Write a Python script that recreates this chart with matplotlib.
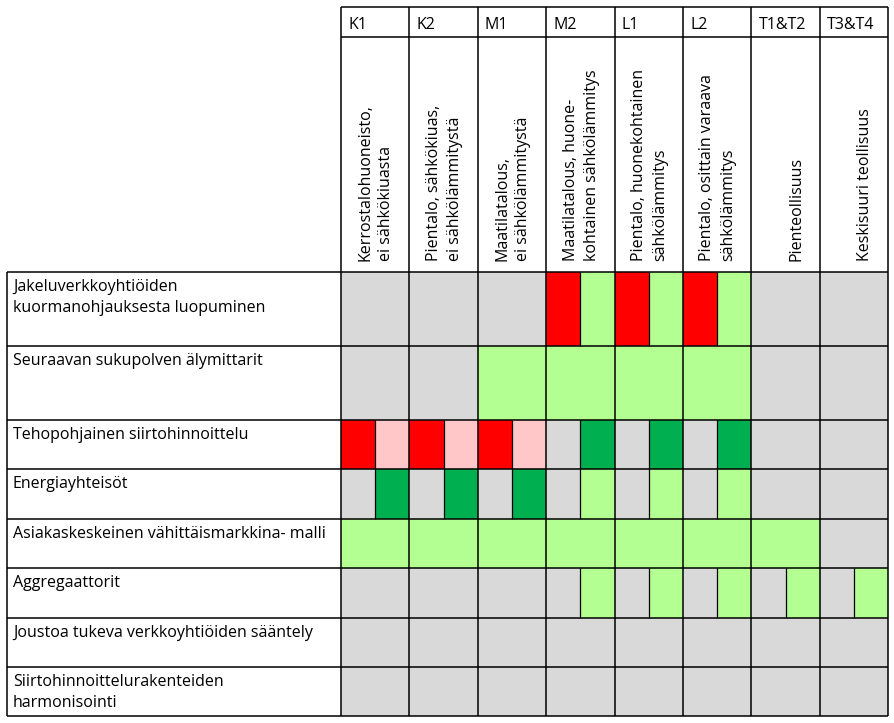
import matplotlib.pyplot as plt

# column codes and their descriptions (header)
codes = ["K1", "K2", "M1", "M2", "L1", "L2", "T1&T2", "T3&T4"]
descriptions = [
    "Kerrostalohuoneisto,\nei sähkökiuasta",
    "Pientalo, sähkökiuas,\nei sähkölämmitystä",
    "Maatilatalous,\nei sähkölämmitystä",
    "Maatilatalous, huone-\nkohtainen sähkölämmitys",
    "Pientalo, huonekohtainen\nsähkölämmitys",
    "Pientalo, osittain varaava\nsähkölämmitys",
    "Pienteollisuus",
    "Keskisuuri teollisuus",
]

# row labels (measures)
measures = [
    "Jakeluverkkoyhtiöiden\nkuormanohjauksesta luopuminen",
    "Seuraavan sukupolven älymittarit",
    "Tehopohjainen siirtohinnoittelu",
    "Energiayhteisöt",
    "Asiakaskeskeinen vähittäismarkkina- malli",
    "Aggregaattorit",
    "Joustoa tukeva verkkoyhtiöiden sääntely",
    "Siirtohinnoittelurakenteiden\nharmonisointi",
]

# cell states: each column has (left half, right half)
G, R, P, DG, LG = "gray", "red", "pink", "dkgreen", "ltgreen"
cells = [
    [(G, G), (G, G), (G, G), (R, LG), (R, LG), (R, LG), (G, G), (G, G)],
    [(G, G), (G, G), (LG, LG), (LG, LG), (LG, LG), (LG, LG), (G, G), (G, G)],
    [(R, P), (R, P), (R, P), (G, DG), (G, DG), (G, DG), (G, G), (G, G)],
    [(G, DG), (G, DG), (G, DG), (G, LG), (G, LG), (G, LG), (G, G), (G, G)],
    [(LG, LG), (LG, LG), (LG, LG), (LG, LG), (LG, LG), (LG, LG), (LG, LG), (G, G)],
    [(G, G), (G, G), (G, G), (G, LG), (G, LG), (G, LG), (G, LG), (G, LG)],
    [(G, G)] * 8,
    [(G, G)] * 8,
]

colors = {
    "gray": "#d9d9d9",
    "red": "#ff0000",
    "pink": "#ffc7c7",
    "dkgreen": "#00b050",
    "ltgreen": "#b3ff91",
}

# layout (pixels)
W, H = 894, 723
x_left = 7
x_grid = 341
col_w = 68.4
y_top = 7
code_h = 30
desc_h = 235
row_h = [74, 74, 49, 50, 49, 50, 49, 49]

plt.rcParams["font.family"] = ["Open Sans", "DejaVu Sans"]
fs = 11.5
lw = 1.1
spacing = 1.42

fig = plt.figure(figsize=(W / 100, H / 100), dpi=100)
ax = fig.add_axes([0, 0, 1, 1])
ax.set_xlim(0, W)
ax.set_ylim(H, 0)
ax.axis("off")

col_x = [x_grid + i * col_w for i in range(len(codes) + 1)]
y_body = y_top + code_h + desc_h
row_y = [y_body]
for h in row_h:
    row_y.append(row_y[-1] + h)

# coloured cells
for r, row in enumerate(cells):
    for c, (left, right) in enumerate(row):
        x0 = col_x[c]
        ax.bar(x0, row_h[r], width=col_w / 2, bottom=row_y[r], align="edge",
               color=colors[left], linewidth=0)
        ax.bar(x0 + col_w / 2, row_h[r], width=col_w / 2, bottom=row_y[r],
               align="edge", color=colors[right], linewidth=0)
        if left != right:
            ax.vlines(x0 + col_w / 2, row_y[r], row_y[r + 1], color="black", lw=0.9)

# header
ax.hlines([y_top, y_top + code_h], col_x[0], col_x[-1], color="black", lw=lw)
ax.vlines(col_x, y_top, y_body, color="black", lw=lw)
for c, (code, desc) in enumerate(zip(codes, descriptions)):
    ax.text(col_x[c] + 7, y_top + code_h / 2 + 3, code, fontsize=fs,
            ha="left", va="center")
    ax.text(col_x[c + 1] - 15, y_body - 11, desc, fontsize=fs, rotation=90,
            rotation_mode="anchor", ha="left", va="bottom", linespacing=spacing)

# body grid
ax.hlines(row_y, x_left, col_x[-1], color="black", lw=lw)
ax.vlines(col_x, y_body, row_y[-1], color="black", lw=lw)
ax.vlines(x_left, y_body, row_y[-1], color="black", lw=lw)

for r, label in enumerate(measures):
    ax.text(x_left + 6, row_y[r] + 7, label, fontsize=fs, ha="left", va="top",
            linespacing=spacing)

fig.savefig("out.png", dpi=100)
